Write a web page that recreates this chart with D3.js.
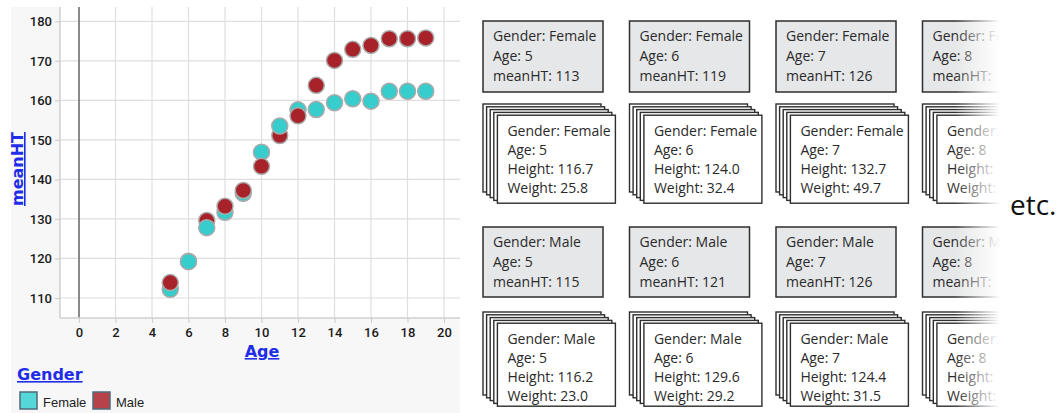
<!DOCTYPE html>
<html><head><meta charset="utf-8">
<script src="https://cdn.jsdelivr.net/npm/d3@7"></script>
<style>html,body{margin:0;padding:0;background:#fff;}svg{display:block;}</style>
</head><body>
<svg id="c" width="1059" height="413"></svg>
<script>
// ---- data ----
const ages = [5,6,7,8,9,10,11,12,13,14,15,16,17,18,19];
const femaleHT = [112.2,119.2,127.8,131.7,136.5,146.9,153.5,157.6,157.7,159.4,160.4,159.8,162.3,162.3,162.3];
const maleHT   = [113.9,119.3,129.6,133.2,137.2,143.3,151.1,156.1,163.8,170.1,172.9,173.9,175.6,175.6,175.8];
const femaleOnTopAges = [6,7,11];
const xTicks = [0,2,4,6,8,10,12,14,16,18,20];
const yTicks = [110,120,130,140,150,160,170,180];
const genders = ["Female","Male"];

// illustration tables (values for age 8 are cut off in the picture)
const summaryAges = [5,6,7,8];
const femaleMean = [113,119,126,null];
const maleMean   = [115,121,126,null];
const femaleHeight = ["116.7","124.0","132.7",null];
const femaleWeight = ["25.8","32.4","49.7",null];
const maleHeight   = ["116.2","129.6","124.4",null];
const maleWeight   = ["23.0","29.2","31.5",null];

// ---- chart ----
const svg = d3.select("#c");
const color = d3.scaleOrdinal().domain(genders).range(["#36cdcc","#a82229"]);
const legendColor = d3.scaleOrdinal().domain(genders).range(["#55d7d7","#b6434a"]);
const x = d3.scaleLinear().domain([0,20]).range([79,444]);
const y = d3.scaleLinear().domain([110,180]).range([298,21.3]);
const plot = {l:60,r:460,t:7,b:318};

svg.append("rect").attr("x",11).attr("y",7).attr("width",449).attr("height",406).attr("fill","#f7f7f7");
svg.append("rect").attr("x",plot.l).attr("y",plot.t).attr("width",plot.r-plot.l).attr("height",plot.b-plot.t).attr("fill","#fff");

// grid
svg.append("g").selectAll("line").data(xTicks).join("line")
  .attr("x1",d=>x(d)).attr("x2",d=>x(d)).attr("y1",plot.t).attr("y2",plot.b)
  .attr("stroke","#dedede").attr("stroke-width",1.2);
svg.append("g").selectAll("line").data(yTicks).join("line")
  .attr("x1",plot.l).attr("x2",plot.r).attr("y1",d=>y(d)).attr("y2",d=>y(d))
  .attr("stroke","#dedede").attr("stroke-width",1.2);
// zero line
svg.append("line").attr("x1",x(0)).attr("x2",x(0)).attr("y1",plot.t).attr("y2",plot.b)
  .attr("stroke","#6a6a6a").attr("stroke-width",1.5);

// axes
const yAxis = d3.axisLeft(y).tickValues(yTicks).tickSize(5).tickPadding(3);
const yg = svg.append("g").attr("transform",`translate(${plot.l},0)`).call(yAxis);
yg.select(".domain").attr("d",`M0,${plot.t}V${plot.b}`).attr("stroke","#cfcfcf").attr("stroke-width",1.5);
const xAxis = d3.axisBottom(x).tickValues(xTicks).tickSize(5).tickPadding(5);
const xg = svg.append("g").attr("transform",`translate(0,${plot.b})`).call(xAxis);
xg.select(".domain").attr("d",`M${plot.l},0H${plot.r}`).attr("stroke","#cfcfcf").attr("stroke-width",1.5);
[yg,xg].forEach(g=>{
  g.selectAll(".tick line").attr("stroke","#cfcfcf").attr("stroke-width",1.2);
  g.selectAll(".tick text").attr("fill","#1a1a1a").style("font-family","Roboto, sans-serif")
   .style("font-size","13px").style("font-weight","500");
});

// points
const pts = [];
ages.forEach((a,i)=>{
  const f = {g:"Female",age:a,v:femaleHT[i]}, m = {g:"Male",age:a,v:maleHT[i]};
  if (femaleOnTopAges.includes(a)) pts.push(m,f); else pts.push(f,m);
});
svg.append("g").selectAll("circle").data(pts).join("circle")
  .attr("cx",d=>x(d.age)).attr("cy",d=>y(d.v)).attr("r",8)
  .attr("fill",d=>color(d.g)).attr("stroke","#a9a9a9").attr("stroke-width",1.5);

// axis titles
const titleStyle = s => s.attr("fill","#1f2ce8").style("font-family","'DejaVu Sans', sans-serif")
  .style("font-size","16px").style("font-weight","700").style("text-decoration","underline");
svg.append("text").attr("x",262).attr("y",357).attr("text-anchor","middle").text("Age").call(titleStyle);
svg.append("text").attr("transform","translate(23,169) rotate(-90)").attr("text-anchor","middle").text("meanHT").call(titleStyle);
svg.append("text").attr("x",17).attr("y",380).text("Gender").call(titleStyle);

// legend
const lg = svg.append("g").selectAll("g").data(genders).join("g")
  .attr("transform",(d,i)=>`translate(${[20,93][i]},392)`);
lg.append("rect").attr("width",17).attr("height",17).attr("fill",d=>legendColor(d))
  .attr("stroke","#4f6b7c").attr("stroke-width",1.5);
lg.append("text").attr("x",23).attr("y",15).text(d=>d).attr("fill","#222")
  .style("font-family","'Liberation Sans', Arial, sans-serif").style("font-size","13px");

// ---- illustration boxes ----
const col = d3.scalePoint().domain(summaryAges).range([483,922.5]);
const boxFont = s => s.attr("fill","#2a2a2a").style("font-family","'Open Sans', sans-serif").style("font-size","14px");
const fmt = (label,v) => v == null ? label : `${label} ${v}`;
const rows = [
  {g:"Female", mean:femaleMean, h:femaleHeight, w:femaleWeight, grayY:21, grayH:71, stackY:104, frontH:88},
  {g:"Male",   mean:maleMean,   h:maleHeight,   w:maleWeight,   grayY:227, grayH:70, stackY:312, frontH:83}
];
const layers = [0,1,2,3,4];
const dx = 3.6, dy = 2.8;
const defs = svg.append("defs");
defs.append("clipPath").attr("id","cut").append("rect").attr("x",0).attr("y",0).attr("width",1000).attr("height",413);
const boxes = svg.append("g").attr("clip-path","url(#cut)");
rows.forEach(r=>{
  summaryAges.forEach((a,i)=>{
    const cx = col(a);
    // summary (gray) box
    boxes.append("rect").attr("x",cx).attr("y",r.grayY).attr("width",120).attr("height",r.grayH)
      .attr("fill","#e6e7e8").attr("stroke","#2e2e2e").attr("stroke-width",1.5);
    [`Gender: ${r.g}`,`Age: ${a}`,fmt("meanHT:",r.mean[i])].forEach((t,k)=>{
      boxes.append("text").attr("x",cx+10).attr("y",r.grayY+19.5+k*20).text(t).call(boxFont);
    });
    // stacked raw-record boxes
    layers.forEach(l=>{
      boxes.append("rect").attr("x",cx+l*dx).attr("y",r.stackY+l*dy).attr("width",118).attr("height",r.frontH)
        .attr("fill","#fff").attr("stroke","#2e2e2e").attr("stroke-width",1.4);
    });
    const fx = cx+4*dx, fy = r.stackY+4*dy;
    [`Gender: ${r.g}`,`Age: ${a}`,fmt("Height:",r.h[i]),fmt("Weight:",r.w[i])].forEach((t,k)=>{
      boxes.append("text").attr("x",fx+10).attr("y",fy+20.5+k*19).text(t).call(boxFont);
    });
  });
});

// fade-out on the right
const grad = defs.append("linearGradient").attr("id","fade").attr("x1","0").attr("x2","1").attr("y1","0").attr("y2","0");
grad.append("stop").attr("offset","0").attr("stop-color","#fff").attr("stop-opacity",0);
grad.append("stop").attr("offset","1").attr("stop-color","#fff").attr("stop-opacity",1);
svg.append("rect").attr("x",955).attr("y",0).attr("width",45).attr("height",413).attr("fill","url(#fade)");

svg.append("text").attr("x",1010).attr("y",215).text("etc.").attr("fill","#111")
  .style("font-family","'Open Sans', sans-serif").style("font-size","28px");
</script>
</body></html>
